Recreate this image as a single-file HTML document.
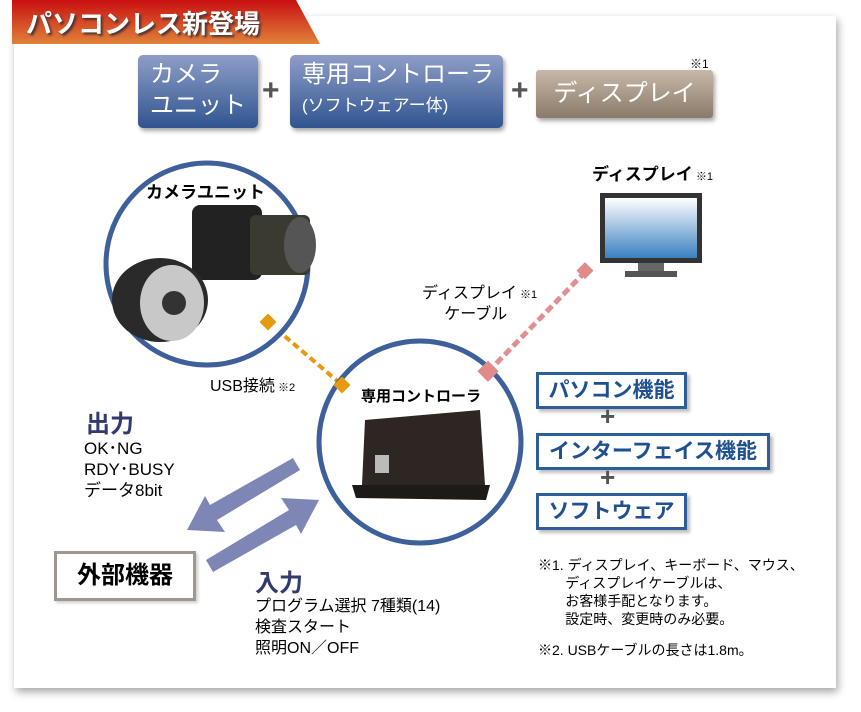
<!DOCTYPE html>
<html><head><meta charset="utf-8"><style>
body{margin:0;width:861px;height:712px;background:#fff;position:relative;overflow:hidden;font-family:"Liberation Sans","Noto Sans CJK JP",sans-serif;}
.a{position:absolute;white-space:nowrap}
.card{position:absolute;left:14px;top:16px;width:822px;height:672px;background:#fff;box-shadow:2px 4px 8px rgba(0,0,0,.35);}
.tb{position:absolute;border-radius:5px;color:#fff;background:linear-gradient(#8f9dc7,#2f5590);box-shadow:2px 3px 4px rgba(0,0,0,.35);}
.bx{position:absolute;border:3px solid #2e5e9a;background:#fff;color:#1f5090;font-weight:bold;font-size:21px;text-align:center;box-shadow:3px 3px 3px rgba(0,0,0,.25);}
.pl{position:absolute;font-size:30px;font-weight:bold;color:#555}
</style></head><body>
<div class="card"></div>
<svg class="a" style="left:0;top:0" width="861" height="712">
<defs><linearGradient id="t" x1="0" y1="0" x2="0" y2="1"><stop offset="0" stop-color="#c81010"/><stop offset="1" stop-color="#e0823a"/></linearGradient>
<linearGradient id="m" x1="0" y1="0" x2="0" y2="1"><stop offset="0" stop-color="#fff"/><stop offset="1" stop-color="#3a80c0"/></linearGradient></defs>
<polygon points="12,0 296,0 320,44 12,44" fill="url(#t)"/>
<line x1="268" y1="322" x2="342" y2="385" stroke="#e59a10" stroke-width="4" stroke-dasharray="7,4"/>
<line x1="488" y1="372" x2="585" y2="272" stroke="#e09090" stroke-width="5" stroke-dasharray="8,4"/>
<circle cx="207" cy="264" r="101" fill="#fff" stroke="#3d5f9a" stroke-width="5"/>
<circle cx="420" cy="442" r="101" fill="#fff" stroke="#3d5f9a" stroke-width="5"/>
<rect x="262" y="316" width="12" height="12" fill="#e59a10" transform="rotate(45 268 322)"/>
<rect x="336" y="379" width="12" height="12" fill="#e59a10" transform="rotate(45 342 385)"/>
<rect x="480" y="364" width="15" height="15" fill="#e08a8a" transform="rotate(45 488 372)"/>
<rect x="578" y="265" width="12" height="12" fill="#e08a8a" transform="rotate(45 585 272)"/>
<!-- camera -->
<rect x="192" y="205" width="70" height="75" rx="8" fill="#222"/>
<rect x="250" y="215" width="60" height="60" rx="6" fill="#3a3a30"/>
<ellipse cx="300" cy="245" rx="16" ry="28" fill="#555"/>
<ellipse cx="160" cy="300" rx="48" ry="42" fill="#2a2a2a"/>
<ellipse cx="172" cy="303" rx="32" ry="38" fill="#c8c8c8"/>
<circle cx="174" cy="303" r="12" fill="#333"/>
<!-- controller -->
<polygon points="365,420 480,410 485,485 362,485" fill="#2d2622"/>
<polygon points="352,485 490,485 486,500 356,498" fill="#1e1a18"/>
<rect x="375" y="455" width="14" height="18" fill="#bbb"/>
<!-- monitor -->
<rect x="600" y="193" width="102" height="70" fill="#333"/>
<rect x="605" y="198" width="92" height="60" fill="url(#m)"/>
<rect x="638" y="263" width="26" height="8" fill="#666"/>
<rect x="625" y="271" width="52" height="6" fill="#555"/>
<!-- arrows -->
<polygon points="300,470 293,458 210,505 205,496 187,530 225,532 217,520" fill="#7d86b5"/>
<polygon points="206,560 213,572 296,525 301,534 319,500 281,498 289,510" fill="#7d86b5"/>
</svg>
<div class="a" style="left:26px;top:4px;font-size:26px;font-weight:bold;color:#fff;text-shadow:2px 2px 2px #433">パソコンレス新登場</div>
<div class="tb" style="left:138px;top:55px;width:120px;height:73px;font-size:24px;line-height:31px;padding:4px 0 0 12px;box-sizing:border-box">カメラ<br>ユニット</div>
<div class="pl" style="left:262px;top:74px">+</div>
<div class="tb" style="left:290px;top:55px;width:213px;height:73px;box-sizing:border-box;padding:4px 0 0 12px"><div style="font-size:24px;line-height:32px">専用コントローラ</div><div style="font-size:17px">(ソフトウェアー体)</div></div>
<div class="pl" style="left:511px;top:74px">+</div>
<div class="tb" style="left:536px;top:70px;width:177px;height:48px;border-radius:3px;background:linear-gradient(#c8b8a8,#8a7a6a);font-size:24px;line-height:48px;text-align:center">ディスプレイ</div>
<div class="a" style="left:690px;top:55px;font-size:12px">※1</div>
<div class="a" style="left:146px;top:178px;font-size:17px;font-weight:bold">カメラユニット</div>
<div class="a" style="left:592px;top:160px;font-size:17px;font-weight:bold">ディスプレイ<span style="font-size:11px;font-weight:normal"> ※1</span></div>
<div class="a" style="left:422px;top:284px;font-size:16px;line-height:20px">ディスプレイ<span style="font-size:11px"> ※1</span><br>&nbsp;&nbsp;&nbsp;&nbsp;&nbsp;ケーブル</div>
<div class="a" style="left:210px;top:372px;font-size:16px">USB接続<span style="font-size:11px"> ※2</span></div>
<div class="a" style="left:361px;top:385px;font-size:15px;font-weight:bold">専用コントローラ</div>
<div class="bx" style="left:536px;top:372px;width:145px;height:31px;line-height:31px">パソコン機能</div>
<div class="pl" style="left:600px;top:401px;font-size:26px">+</div>
<div class="bx" style="left:536px;top:433px;width:228px;height:31px;line-height:31px">インターフェイス機能</div>
<div class="pl" style="left:600px;top:462px;font-size:26px">+</div>
<div class="bx" style="left:536px;top:493px;width:145px;height:31px;line-height:31px">ソフトウェア</div>
<div class="a" style="left:86px;top:404px;font-size:24px;font-weight:bold;color:#333a70">出力</div>
<div class="a" style="left:84px;top:438px;font-size:17px;line-height:21px">OK･NG<br>RDY･BUSY<br>データ8bit</div>
<div class="a" style="left:54px;top:551px;width:136px;height:44px;border:3px solid #a09890;font-size:24px;font-weight:bold;text-align:center;line-height:44px;box-shadow:2px 2px 3px rgba(0,0,0,.2)">外部機器</div>
<div class="a" style="left:255px;top:563px;font-size:24px;font-weight:bold;color:#333a70">入力</div>
<div class="a" style="left:255px;top:596px;font-size:16px;line-height:21px">プログラム選択 7種類(14)<br>検査スタート<br>照明ON／OFF</div>
<div class="a" style="left:538px;top:556px;font-size:14px;line-height:18px">※1. ディスプレイ、キーボード、マウス、<br>&nbsp;&nbsp;&nbsp;&nbsp;&nbsp;&nbsp;&nbsp;ディスプレイケーブルは、<br>&nbsp;&nbsp;&nbsp;&nbsp;&nbsp;&nbsp;&nbsp;お客様手配となります。<br>&nbsp;&nbsp;&nbsp;&nbsp;&nbsp;&nbsp;&nbsp;設定時、変更時のみ必要。</div>
<div class="a" style="left:538px;top:640px;font-size:14px">※2. USBケーブルの長さは1.8m。</div>
</body></html>
